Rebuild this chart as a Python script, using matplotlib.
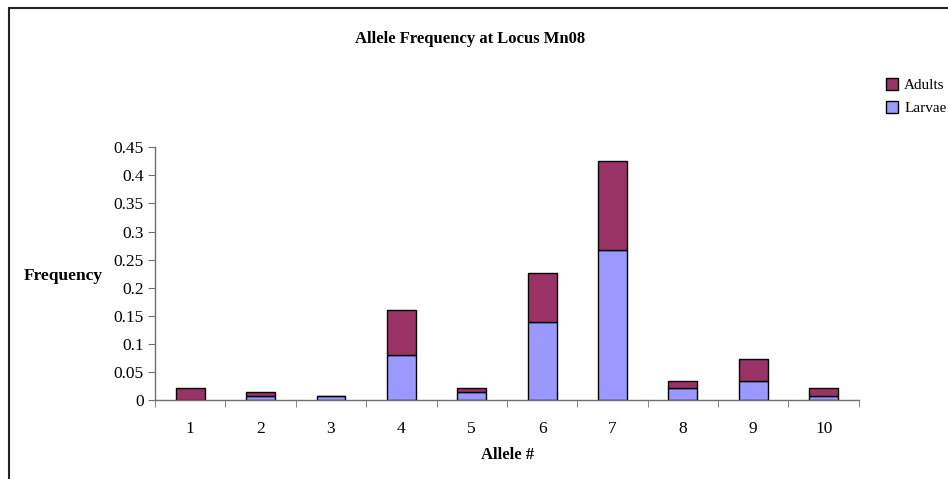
import numpy as np
import matplotlib
matplotlib.use("Agg")
import matplotlib.pyplot as plt
from matplotlib.patches import Rectangle

alleles = ['1', '2', '3', '4', '5', '6', '7', '8', '9', '10']
larvae = [0.0, 0.007, 0.007, 0.08, 0.014, 0.139, 0.267, 0.021, 0.033, 0.007]
adults = [0.021, 0.007, 0.0, 0.08, 0.007, 0.087, 0.158, 0.013, 0.040, 0.014]

plt.rcParams['font.family'] = ['Liberation Serif', 'DejaVu Serif']

fig = plt.figure(figsize=(9.48, 4.79), dpi=100)
ax = fig.add_axes([0.1635, 0.1649, 0.906 - 0.1635, 0.6925 - 0.1649])

x = np.arange(len(alleles))
ax.bar(x, larvae, width=0.41, color='#9999ff', edgecolor='black', linewidth=1, label='Larvae')
ax.bar(x, adults, width=0.41, bottom=larvae, color='#993366', edgecolor='black', linewidth=1, label='Adults')

ax.set_xlim(-0.5, len(alleles) - 0.5)
ax.set_ylim(0, 0.45)
ax.set_yticks(np.arange(0, 0.451, 0.05))
ax.set_yticklabels(['0', '0.05', '0.1', '0.15', '0.2', '0.25', '0.3', '0.35', '0.4', '0.45'])
ax.set_xticks(x)
ax.set_xticklabels(alleles)
ax.set_xticks(np.arange(-0.5, len(alleles)), minor=True)
ax.tick_params(axis='x', which='major', length=0, pad=15, labelsize=12.5)
ax.tick_params(axis='x', which='minor', length=5, direction='out', color='#707070')
ax.tick_params(axis='y', length=5, direction='out', color='#707070', labelsize=12.5, pad=3)

for s in ['top', 'right']:
    ax.spines[s].set_visible(False)
for s in ['left', 'bottom']:
    ax.spines[s].set_color('#707070')
    ax.spines[s].set_linewidth(1)

fig.text(0.496, 0.918, 'Allele Frequency at Locus Mn08', ha='center', va='center',
         fontsize=12, fontweight='bold')
fig.text(0.067, 0.424, 'Frequency', ha='center', va='center', fontsize=12.5, fontweight='bold')
fig.text(0.535, 0.05, 'Allele #', ha='center', va='center', fontsize=12, fontweight='bold')

h, l = ax.get_legend_handles_labels()
fig.legend(h[::-1], l[::-1], loc='upper left', bbox_to_anchor=(0.928, 0.85), frameon=False,
           fontsize=11, handlelength=0.8, handleheight=0.8, handletextpad=0.4,
           labelspacing=0.6, borderaxespad=0)

fig.patches.append(Rectangle((9 / 948, -0.1), 1.2, (479 - 8) / 479 + 0.1,
                             transform=fig.transFigure, fill=False,
                             edgecolor='#222222', linewidth=1.5))

fig.savefig('out.png', dpi=100)
